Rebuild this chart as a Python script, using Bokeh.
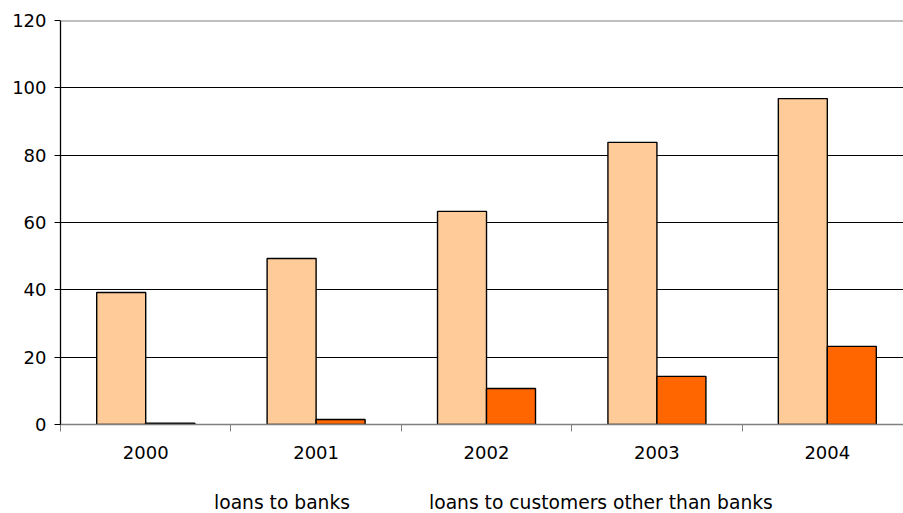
from bokeh.plotting import figure
from bokeh.layouts import column
from bokeh.models import (ColumnDataSource, FixedTicker, Range1d, Legend, LegendItem, Span,
                          CDSView, IndexFilter)
from bokeh.transform import dodge
from bokeh.embed import file_html
from bokeh.resources import INLINE

years = ["2000", "2001", "2002", "2003", "2004"]
loans_to_banks = [39.2, 49.3, 63.3, 83.8, 96.8]
loans_to_customers = [0.4, 1.5, 10.7, 14.3, 23.2]
y_ticks = [0, 20, 40, 60, 80, 100, 120]
series_labels = ["loans to banks", "loans to customers other than banks"]

pos = list(range(len(years)))
src = ColumnDataSource(dict(x=pos, banks=loans_to_banks, cust=loans_to_customers))

FONT = "DejaVu Sans"
BANK_COL = "#FFCC99"
CUST_COL = "#FF6600"

p = figure(width=903, height=470, output_backend="svg", toolbar_location=None,
           x_range=Range1d(-0.5, 4.447), y_range=Range1d(0, 120),
           min_border_left=60, min_border_right=0, min_border_top=20, min_border_bottom=46)
p.outline_line_color = None
p.background_fill_color = "white"
p.border_fill_color = "white"

bw = 0.2875
r1 = p.vbar(x=dodge("x", -bw / 2, range=p.x_range), top="banks", width=bw, source=src,
            fill_color=BANK_COL, line_color="black", line_width=1.4)
r2 = p.vbar(x=dodge("x", bw / 2, range=p.x_range), top="cust", width=bw, source=src,
            fill_color=CUST_COL, line_color="black", line_width=1.4)

# grid
p.xgrid.visible = False
p.ygrid.ticker = FixedTicker(ticks=y_ticks[1:-1])
p.ygrid.grid_line_color = "black"
p.ygrid.grid_line_width = 1
p.add_layout(Span(location=120, dimension="width", line_color="#808080", line_width=2))

# y axis
p.yaxis.ticker = FixedTicker(ticks=y_ticks)
p.yaxis.axis_line_color = "black"
p.yaxis.axis_line_width = 1.3
p.yaxis.major_tick_in = 0
p.yaxis.major_tick_out = 6
p.yaxis.major_tick_line_color = "black"
p.yaxis.minor_tick_line_color = None
p.yaxis.major_label_standoff = 8
p.yaxis.major_label_text_font = FONT
p.yaxis.major_label_text_font_size = "18px"
p.yaxis.major_label_text_color = "black"

# x axis
p.xaxis.ticker = FixedTicker(ticks=pos, minor_ticks=[i - 0.5 for i in pos] + [4.5])
p.xaxis.major_label_overrides = {i: y for i, y in enumerate(years)}
p.xaxis.major_tick_line_color = None
p.xaxis.minor_tick_in = 0
p.xaxis.minor_tick_out = 7
p.xaxis.minor_tick_line_color = "#808080"
p.xaxis.axis_line_color = "#808080"
p.xaxis.axis_line_width = 1.3
p.xaxis.major_label_standoff = 14
p.xaxis.major_label_text_font = FONT
p.xaxis.major_label_text_font_size = "18px"
p.xaxis.major_label_text_color = "black"

# legend strip (separate figure below the chart)
lg = figure(width=903, height=43, output_backend="svg", toolbar_location=None,
            x_range=Range1d(-0.5, 4.447), y_range=Range1d(0, 120),
            x_axis_location=None, y_axis_location=None,
            min_border_left=60, min_border_right=0,
            min_border_top=0, min_border_bottom=0)
lg.outline_line_color = None
lg.xgrid.visible = False
lg.ygrid.visible = False
empty = CDSView(filter=IndexFilter(indices=[]))
l1 = lg.vbar(x="x", top="banks", width=bw, source=src, view=empty,
             fill_color=BANK_COL, line_color="black", line_width=1.4)
l2 = lg.vbar(x="x", top="cust", width=bw, source=src, view=CDSView(filter=IndexFilter(indices=[])),
             fill_color=CUST_COL, line_color="black", line_width=1.4)

legend = Legend(items=[LegendItem(label=series_labels[0], renderers=[l1]),
                       LegendItem(label=series_labels[1], renderers=[l2])],
                orientation="horizontal", location=(137, 0),
                label_text_font=FONT, label_text_font_size="18.7px", label_text_color="black",
                glyph_width=12, glyph_height=12, label_standoff=5, spacing=62,
                border_line_color=None, background_fill_alpha=0, padding=0, margin=0)
lg.add_layout(legend, "center")

layout = column(p, lg, spacing=0)
open("out.html", "w").write(file_html(layout, INLINE))
